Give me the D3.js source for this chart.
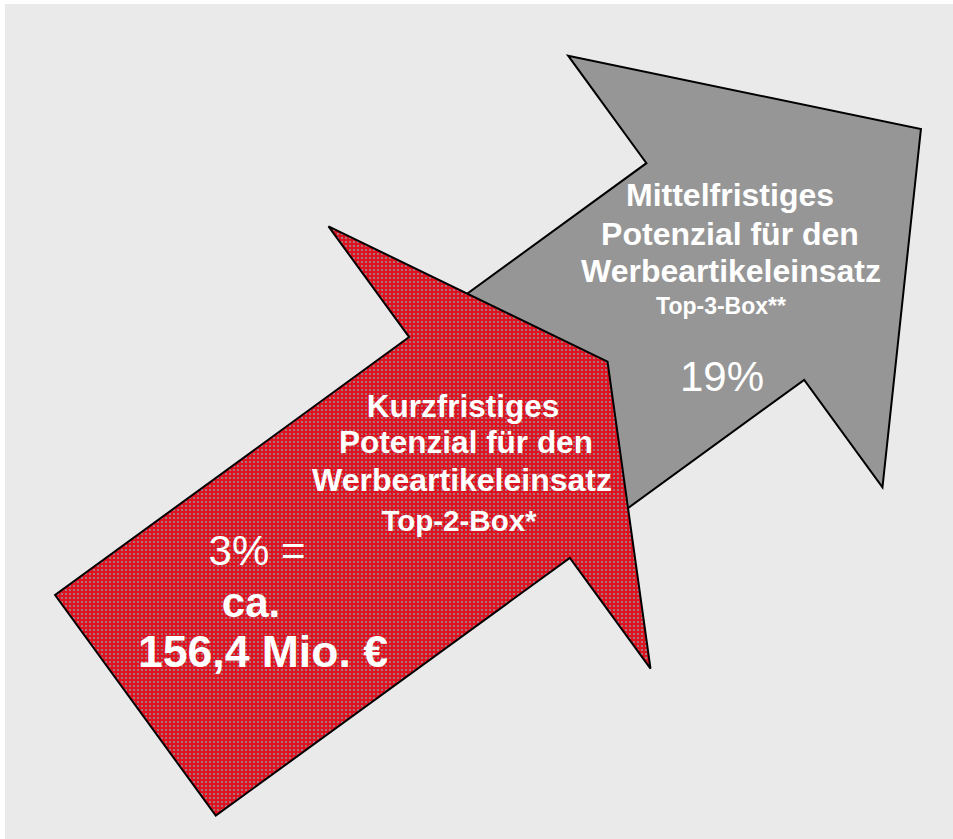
<!DOCTYPE html>
<html lang="de">
<head>
    <meta charset="UTF-8">
    <script src="https://d3js.org/d3.v7.min.js"></script>
    <title>Potenzial Werbeartikeleinsatz</title>
    <style>
        body { margin: 0; background: #fff; }
        text { font-family: "Liberation Sans", Arial, sans-serif; fill: #fff; }
        .arrow { stroke: #000; stroke-width: 2px; stroke-linejoin: miter; }
    </style>
</head>
<body>
<div class="graph"></div>
<script>
    // data
    var horizons = ["Kurzfristiges", "Mittelfristiges"];
    var potLines = ["Potenzial für den", "Werbeartikeleinsatz"];
    var boxes = ["Top-2-Box*", "Top-3-Box**"];
    var shares = [3, 19];            // percent
    var volumeLabel = ["ca.", "156,4 Mio. €"];

    var width = 953, height = 839;

    // diagram space -> pixels
    var x = d3.scaleLinear().domain([0, 953]).range([0, width]);
    var y = d3.scaleLinear().domain([0, 839]).range([0, height]);

    // arrow layout: notch centre, angle, shaft length, half widths, head length
    var arrows = [
        { key: "mittel", cx: 725.3, cy: 271.5, angle: -36.06, shaftLen: 240, shaftHalf: 134, headHalf: 267, headLen: 242, fill: "#969696" },
        { key: "kurz", cx: 489.5, cy: 447.5, angle: -36.06, shaftLen: 438, shaftHalf: 136.5, headHalf: 273.5, headLen: 146, fill: "url(#dots)" }
    ];

    function arrowPoints(a) {
        var r = a.angle * Math.PI / 180,
            u = [Math.cos(r), Math.sin(r)],
            n = [-Math.sin(r), Math.cos(r)];
        function p(along, side) {
            return [x(a.cx + along * u[0] + side * n[0]), y(a.cy + along * u[1] + side * n[1])];
        }
        return [
            p(a.headLen, 0),
            p(0, a.headHalf),
            p(0, a.shaftHalf),
            p(-a.shaftLen, a.shaftHalf),
            p(-a.shaftLen, -a.shaftHalf),
            p(0, -a.shaftHalf),
            p(0, -a.headHalf)
        ];
    }

    var svg = d3.select(".graph")
        .append("svg")
        .attr("width", width)
        .attr("height", height)
        .style("display", "block");

    // red dotted texture
    var pat = svg.append("defs").append("pattern")
        .attr("id", "dots")
        .attr("patternUnits", "userSpaceOnUse")
        .attr("width", 4)
        .attr("height", 4);
    pat.append("rect").attr("width", 4).attr("height", 4).attr("fill", "#e0121f");
    pat.append("circle").attr("cx", 2).attr("cy", 2).attr("r", 1.1).attr("fill", "#9a8d91");

    svg.append("rect")
        .attr("x", 5).attr("y", 4)
        .attr("width", width - 5).attr("height", height - 4)
        .attr("fill", "#eaeaea");

    svg.selectAll(".arrow")
        .data(arrows)
        .enter()
        .append("polygon")
        .attr("class", "arrow")
        .attr("fill", function (d) { return d.fill; })
        .attr("points", function (d) { return arrowPoints(d).map(function (q) { return q.join(","); }).join(" "); });

    function label(tx, ty, str, size, weight) {
        return svg.append("text")
            .attr("x", x(tx))
            .attr("y", y(ty))
            .attr("text-anchor", "middle")
            .style("font-size", size + "px")
            .style("font-weight", weight)
            .text(str);
    }

    // Mittelfristig (grey)
    label(730, 206, horizons[1], 32, "bold");
    label(730, 245, potLines[0], 32, "bold");
    label(731, 282, potLines[1], 32, "bold");
    label(721, 314, boxes[1], 23, "bold");
    label(722, 391, shares[1] + "%", 42, "normal");

    // Kurzfristig (red)
    label(463, 417, horizons[0], 31.5, "bold");
    label(466, 453, potLines[0], 31.5, "bold");
    label(462, 491, potLines[1], 32, "bold");
    label(459, 531, boxes[0], 29.5, "bold");
    label(257, 565, shares[0] + "% =", 42, "normal");
    label(251, 617, volumeLabel[0], 42, "bold");
    label(263, 667, volumeLabel[1], 44.5, "bold");
</script>
</body>
</html>
